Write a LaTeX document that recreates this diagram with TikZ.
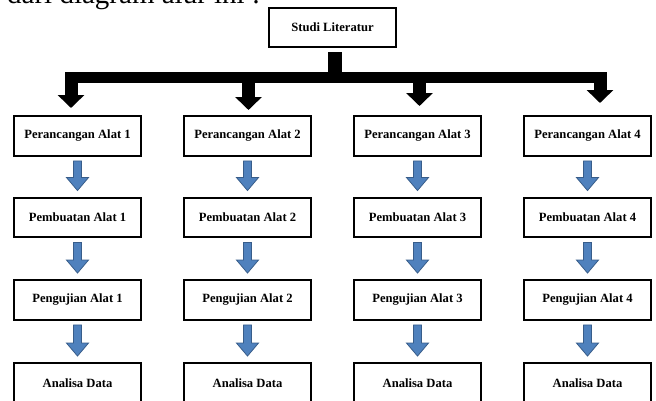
\documentclass[tikz,border=0pt]{standalone}
\usepackage{fontspec}
\setmainfont{Liberation Serif}
\usetikzlibrary{arrows.meta,calc}
\definecolor{arrfill}{HTML}{4F81BD}
\definecolor{arredge}{HTML}{385D8A}
\tikzset{
 box/.style={draw=black, line width=2.4pt, minimum width=126.5pt, minimum height=39.5pt, inner sep=0pt, font=\fontsize{12.6}{15}\selectfont\bfseries},
 busline/.style={line width=11pt, black},
 trunk/.style={line width=14pt, black},
 drop/.style={line width=13pt, black, -{Triangle[length=13pt,width=26pt]}},
 bluearr/.style={fill=arrfill, draw=arredge, line width=0.8pt, line join=miter},
}
\newcommand{\flowarrow}[2]{%
 \filldraw[bluearr] let \p1=($(#1.south)+(0,-4pt)$), \p2=($(#2.north)+(0,6pt)$) in
 (\x1-4pt,\y1) -- (\x1+4pt,\y1) -- (\x1+4pt,\y2+13pt) -- (\x1+11pt,\y2+13pt) -- (\x1,\y2) -- (\x1-11pt,\y2+13pt) -- (\x1-4pt,\y2+13pt) -- cycle;}
\begin{document}
\begin{tikzpicture}[x=1pt,y=-1pt]
\useasboundingbox (0,0) rectangle (656,400);
\clip (0,0) rectangle (656,400);
\node[anchor=base west, font=\fontsize{29}{34}\selectfont, inner sep=0pt] (intro) at (7,3.5) {dari diagram alur ini :};
\node[box] (s) at (332.5,27.5) {Studi Literatur};
\foreach \i/\x in {1/77.5,2/247.5,3/417.5,4/587.5}{
 \node[box] (a\i) at (\x,136) {Perancangan Alat \i};
 \node[box] (b\i) at (\x,217.5) {Pembuatan Alat \i};
 \node[box] (c\i) at (\x,300) {Pengujian Alat \i};
 \node[box] (d\i) at (\x,383) {Analisa Data};
}
% black distribution connector
\coordinate (busL) at (65,77.5);
\coordinate (busR) at (607,77.5);
\coordinate (sj) at (334.5,83);
\coordinate (t1) at (71,108);
\coordinate (t2) at (248.5,110);
\coordinate (t3) at (419.5,106);
\coordinate (t4) at (600,103);
\draw[trunk] ($(s.south)+(2pt,-4pt)$) -- (sj);
\draw[busline] (busL) -- (busR);
\foreach \i in {1,2,3,4}{
 \draw[drop] ($(t\i |- busL)+(0,5pt)$) -- (t\i);
}
\foreach \i in {1,2,3,4}{
 \flowarrow{a\i}{b\i}
 \flowarrow{b\i}{c\i}
 \flowarrow{c\i}{d\i}
}
\end{tikzpicture}
\end{document}
